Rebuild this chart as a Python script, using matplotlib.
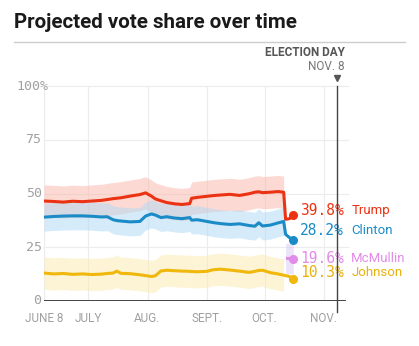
import matplotlib
matplotlib.use("Agg")
import matplotlib.pyplot as plt
import matplotlib.transforms as mtransforms

# days after June 8, 2016
days = [0, 5, 10, 15, 20, 25, 30, 33, 36, 38, 40, 45, 50, 53, 56, 58, 61, 64, 68, 72,
        76, 77, 80, 85, 88, 92, 97, 102, 107, 110, 112, 114, 118, 122, 125, 126, 128, 130]

trump = [46.5, 46.3, 46.0, 46.4, 46.2, 46.5, 46.8, 47.2, 47.6, 47.8, 48.0, 48.8, 49.5, 50.3,
         48.8, 47.5, 46.6, 45.8, 45.2, 44.9, 45.3, 47.8, 48.2, 48.7, 49.0, 49.3, 49.6, 49.1,
         49.9, 50.6, 50.8, 50.4, 50.6, 50.9, 50.6, 38.0, 38.3, 39.8]
clinton = [39.0, 39.3, 39.5, 39.6, 39.6, 39.4, 39.1, 39.2, 37.8, 37.4, 37.2, 36.8, 37.0, 39.5,
           40.5, 40.0, 38.8, 39.2, 38.6, 38.3, 38.8, 37.6, 37.8, 37.0, 36.5, 36.0, 35.6, 35.9,
           35.1, 34.8, 36.4, 34.9, 35.3, 36.3, 37.0, 31.0, 29.5, 28.2]
johnson = [13.0, 12.6, 12.8, 12.4, 12.6, 12.3, 12.5, 12.8, 13.0, 13.9, 12.9, 12.7, 12.2, 11.8,
           11.4, 11.7, 14.0, 14.3, 14.1, 13.9, 13.8, 13.7, 13.6, 13.8, 14.5, 14.8, 14.4, 13.9,
           13.3, 13.8, 14.2, 14.3, 13.2, 12.6, 12.0, 11.8, 11.4, 10.3]
mcmullin_days = [127, 130]
mcmullin = [19.8, 19.6]

# half-width of the shaded uncertainty band
margins = {"Trump": 7.5, "Clinton": 6.5, "Johnson": 7.5, "McMullin": 7.0}

month_ticks = [0, 23, 54, 85, 115, 146]
month_labels = ["JUNE 8", "JULY", "AUG.", "SEPT.", "OCT.", "NOV."]
election_day = 153

series = [
    ("Trump", days, trump, "#eb3212", "#fbb5a9", "#eb3212", 5),
    ("Clinton", days, clinton, "#1b8bc7", "#add9f5", "#1b8bc7", 10),
    ("McMullin", mcmullin_days, mcmullin, "#e28be8", "#d9c8f0", "#e28be8", 0),
    ("Johnson", days, johnson, "#f0b70c", "#fbebad", "#eab10c", 6),
]

fig = plt.figure(figsize=(4.19, 3.46), dpi=100)
ax = fig.add_axes([44 / 419, 45 / 346, 302 / 419, 215 / 346])

n_band = days.index(125) + 1
for name, x, y, color, band, tcolor, dy in series:
    m = margins[name]
    bx = x[:n_band] if len(x) > n_band else [x[0] - 1, x[-1]]
    by = y[:n_band] if len(y) > n_band else [y[0], y[-1]]
    ax.fill_between(bx, [v - m for v in by], [v + m for v in by],
                    color=band, alpha=0.5, lw=0, zorder=1)

for name, x, y, color, band, tcolor, dy in series:
    ax.plot(x, y, color=color, lw=2.2, zorder=3, solid_joinstyle="round")
    ax.plot(x[-1], y[-1], "o", color=color, ms=5.5, zorder=4, clip_on=False)
    ax.annotate(f"{y[-1]:.1f}%", (x[-1], y[-1]), xytext=(7, dy),
                textcoords="offset pixels", va="center", ha="left",
                color=tcolor, fontsize=10.5, family="DejaVu Sans Mono",
                annotation_clip=False)
    ax.annotate(name, (x[-1], y[-1]), xytext=(58, dy),
                textcoords="offset pixels", va="center", ha="left",
                color=tcolor, fontsize=9.5, family="Roboto",
                annotation_clip=False)

ax.set_xlim(0, 157.5)
ax.set_ylim(0, 100)

for t in month_ticks:
    ax.axvline(t, color="#ececec", lw=0.8, zorder=0)
for v in [25, 50, 75, 100]:
    ax.plot([0, 158.5], [v, v], color="#ececec", lw=0.8, zorder=0, clip_on=False)
ax.axhline(0, color="#333333", lw=1.3, zorder=5)

for s in ax.spines.values():
    s.set_visible(False)
ax.set_xticks(month_ticks)
ax.set_xticklabels(month_labels, color="#a0a0a0", fontsize=8.5, family="Roboto")
ax.tick_params(axis="x", length=0, pad=8)
ax.set_yticks([])

trans = mtransforms.blended_transform_factory(ax.transAxes, ax.transData)
for v, lab in [(0, "0"), (25, "25"), (50, "50"), (75, "75")]:
    ax.text(-0.008, v, lab, transform=trans, ha="right", va="center",
            color="#a0a0a0", fontsize=9.5, family="DejaVu Sans Mono")
ax.text(-0.09, 100, "100%", transform=trans, ha="left", va="center",
        color="#a0a0a0", fontsize=9.5, family="DejaVu Sans Mono")

# election day marker
ax.plot([election_day, election_day], [-5, 100], color="#444444", lw=1.0,
        clip_on=False, zorder=5)
ax.plot(election_day, 103.5, "v", color="#555555", ms=5, clip_on=False)
fig.text(345 / 419, 1 - 52.5 / 346, "ELECTION DAY", ha="right", va="center",
         color="#555555", fontsize=8.5, family="Roboto", weight="bold")
fig.text(345 / 419, 1 - 66.5 / 346, "NOV. 8", ha="right", va="center",
         color="#777777", fontsize=8.5, family="Roboto")

fig.text(14 / 419, 1 - 22 / 346, "Projected vote share over time", ha="left",
         va="center", fontsize=14.8, family="Roboto", weight="bold", color="#1a1a1a")
fig.add_artist(plt.Line2D([14 / 419, 405 / 419], [1 - 42 / 346, 1 - 42 / 346],
                          color="#cccccc", lw=1.0))

fig.savefig("out.png", dpi=100)
